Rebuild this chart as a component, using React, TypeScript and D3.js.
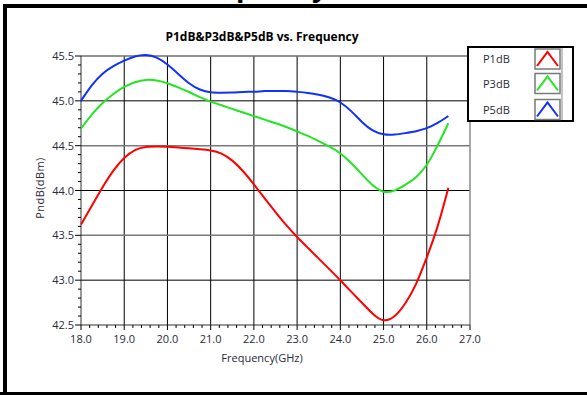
import React from "react";
import * as d3 from "d3";

// Frequency sample points (GHz)
const freqs = [
  18.0, 18.25, 18.5, 18.75, 19.0, 19.25, 19.5, 19.75, 20.0, 20.25, 20.5, 20.75,
  21.0, 21.25, 21.5, 21.75, 22.0, 22.25, 22.5, 22.75, 23.0, 23.25, 23.5, 23.75,
  24.0, 24.25, 24.5, 24.75, 25.0, 25.25, 25.5, 25.75, 26.0, 26.25, 26.5,
];

// Compression points (dBm)
const p1dB = [
  43.62, 43.83, 44.04, 44.23, 44.37, 44.46, 44.49, 44.49, 44.49, 44.48, 44.47, 44.46,
  44.45, 44.42, 44.34, 44.22, 44.07, 43.91, 43.76, 43.61, 43.48, 43.36, 43.24, 43.12,
  43.0, 42.87, 42.75, 42.62, 42.53, 42.58, 42.73, 42.94, 43.25, 43.58, 44.03,
];
const p3dB = [
  44.69, 44.85, 44.98, 45.08, 45.16, 45.21, 45.24, 45.23, 45.2, 45.15, 45.1, 45.04,
  44.99, 44.95, 44.91, 44.87, 44.83, 44.79, 44.75, 44.71, 44.66, 44.61, 44.55, 44.49,
  44.42, 44.31, 44.18, 44.05, 43.97, 43.99, 44.06, 44.14, 44.27, 44.5, 44.75,
];
const p5dB = [
  45.0, 45.18, 45.31, 45.39, 45.45, 45.5, 45.52, 45.49, 45.41, 45.3, 45.19, 45.12,
  45.09, 45.09, 45.09, 45.1, 45.1, 45.11, 45.11, 45.11, 45.1, 45.09, 45.07, 45.04,
  44.99, 44.89, 44.76, 44.66, 44.62, 44.62, 44.64, 44.66, 44.69, 44.75, 44.83,
];

const seriesNames = ["P1dB", "P3dB", "P5dB"];
const seriesColors = ["#ff0000", "#22e622", "#1030ff"];
const seriesValues = [p1dB, p3dB, p5dB];

const xTicks = [18, 19, 20, 21, 22, 23, 24, 25, 26, 27];
const yTicks = [42.5, 43.0, 43.5, 44.0, 44.5, 45.0, 45.5];

const W = 587;
const H = 395;
const plot = { left: 81, right: 470, top: 56, bottom: 325 };

export default function App() {
  const x = d3.scaleLinear().domain([18, 27]).range([plot.left, plot.right]);
  const y = d3.scaleLinear().domain([42.5, 45.5]).range([plot.bottom, plot.top]);

  const line = d3
    .line<number>()
    .x((_, i) => x(freqs[i]))
    .y((d) => y(d))
    .curve(d3.curveBasis);

  const xMinor = d3.range(18, 27.0001, 0.2).filter((v) => Math.abs(v - Math.round(v)) > 0.01);
  const yMinor = d3.range(42.5, 45.5001, 0.1).filter((v) => Math.abs(v * 2 - Math.round(v * 2)) > 0.01);

  const font = "'Open Sans', 'DejaVu Sans', sans-serif";
  const textColor = "#2a2a3a";

  const legend = { x: 468, y: 47, w: 105, h: 74 };
  const rowY = [59, 83.5, 109.5];

  return (
    <svg
      width={W}
      height={H}
      style={{ position: "absolute", left: 0, top: 0, background: "#fff" }}
      fontFamily={font}
    >
      <rect x={0} y={0} width={W} height={H} fill="#fff" />

      {/* heading above the frame, mostly clipped */}
      <text x={182} y={-4} fontSize={28} fontWeight="bold" fill="#000">
        Frequency
      </text>

      {/* outer frame */}
      <path d={`M5,${H + 5} V6 H${W + 5}`} fill="none" stroke="#000" strokeWidth={4} />
      <line x1={0} x2={W} y1={393.5} y2={393.5} stroke="#000" strokeWidth={3} />

      {/* title */}
      <text x={262} y={41} textAnchor="middle" fontSize={12} fontWeight="bold" fill="#000">
        P1dB&amp;P3dB&amp;P5dB vs. Frequency
      </text>

      {/* plot background */}
      <rect
        x={plot.left}
        y={plot.top}
        width={plot.right - plot.left}
        height={plot.bottom - plot.top}
        fill="#fff"
      />

      {/* vertical grid */}
      {xTicks.slice(1, -1).map((t) => (
        <line key={`vx${t}`} x1={x(t)} x2={x(t)} y1={plot.top} y2={plot.bottom} stroke="#000" strokeWidth={1} />
      ))}
      {/* horizontal grid */}
      {yTicks.slice(1, -1).map((t) => {
        const whole = Math.abs(t - Math.round(t)) < 0.01;
        return (
          <line
            key={`hy${t}`}
            x1={plot.left}
            x2={plot.right}
            y1={y(t)}
            y2={y(t)}
            stroke={whole ? "#000" : "#7a7a7a"}
            strokeWidth={whole ? 1 : 1.5}
          />
        );
      })}
      {/* plot border */}
      <line x1={plot.left} x2={plot.right} y1={plot.top} y2={plot.top} stroke="#6e6e6e" strokeWidth={1.5} />
      <line x1={plot.right} x2={plot.right} y1={plot.top} y2={plot.bottom} stroke="#8a8a8a" strokeWidth={1.5} />
      <line x1={plot.left} x2={plot.left} y1={plot.top} y2={plot.bottom} stroke="#333" strokeWidth={1} />
      <line x1={plot.left} x2={plot.right} y1={plot.bottom} y2={plot.bottom} stroke="#333" strokeWidth={1} />

      {/* x ticks */}
      {xTicks.map((t) => (
        <g key={`xt${t}`}>
          <line x1={x(t)} x2={x(t)} y1={plot.bottom} y2={plot.bottom + 5} stroke="#000" />
          <text x={x(t)} y={plot.bottom + 18} textAnchor="middle" fontSize={11} fill={textColor}>
            {t.toFixed(1)}
          </text>
        </g>
      ))}
      {xMinor.map((t, i) => (
        <line key={`xm${i}`} x1={x(t)} x2={x(t)} y1={plot.bottom} y2={plot.bottom + 3} stroke="#000" />
      ))}

      {/* y ticks */}
      {yTicks.map((t) => (
        <g key={`yt${t}`}>
          <line x1={plot.left - 6} x2={plot.left} y1={y(t)} y2={y(t)} stroke="#000" />
          <text x={plot.left - 7} y={y(t) + 4} textAnchor="end" fontSize={11} fill={textColor}>
            {t.toFixed(1)}
          </text>
        </g>
      ))}
      {yMinor.map((t, i) => (
        <line key={`ym${i}`} x1={plot.left - 3} x2={plot.left} y1={y(t)} y2={y(t)} stroke="#000" />
      ))}

      {/* axis titles */}
      <text x={262} y={362} textAnchor="middle" fontSize={11} fill={textColor}>
        Frequency(GHz)
      </text>
      <text
        transform={`translate(44,188) rotate(-90)`}
        textAnchor="middle"
        fontSize={11}
        letterSpacing={0.4}
        fill={textColor}
      >
        PndB(dBm)
      </text>

      {/* series */}
      {seriesValues.map((vals, i) => (
        <path
          key={seriesNames[i]}
          d={line(vals) ?? ""}
          fill="none"
          stroke={seriesColors[i]}
          strokeWidth={2}
          strokeLinejoin="round"
        />
      ))}

      {/* legend */}
      <rect x={legend.x} y={legend.y} width={legend.w} height={legend.h} fill="#fff" stroke="#000" strokeWidth={2} />
      <line x1={562} x2={562} y1={legend.y + 1} y2={legend.y + legend.h - 1} stroke="#8a8a8a" strokeWidth={1} />
      {seriesNames.map((name, i) => {
        const cy = rowY[i];
        const bx = 535;
        const by = cy - 10;
        return (
          <g key={`lg${name}`}>
            <text x={483} y={cy + 4} fontSize={11} fill={textColor}>
              {name}
            </text>
            <rect x={bx} y={by} width={25} height={20} fill="#fff" stroke="#7a7a7a" strokeWidth={1.5} />
            <polyline
              points={`${bx + 2},${by + 17} ${bx + 12.5},${by + 3} ${bx + 23},${by + 17}`}
              fill="none"
              stroke={seriesColors[i]}
              strokeWidth={2}
            />
          </g>
        );
      })}
    </svg>
  );
}
